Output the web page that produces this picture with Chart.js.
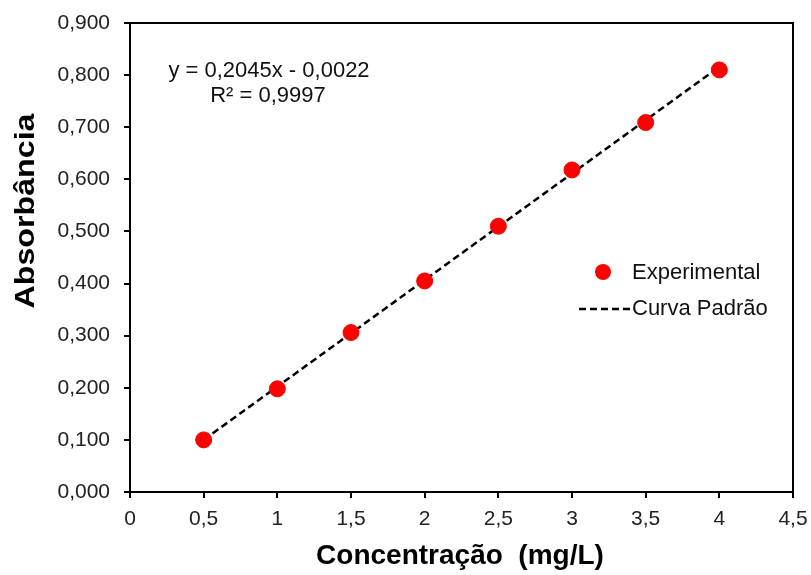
<!DOCTYPE html>
<html>
<head>
<meta charset="utf-8">
<script src="https://cdn.jsdelivr.net/npm/chart.js@4.4.0/dist/chart.umd.min.js"></script>
<style>
  html, body { margin: 0; padding: 0; background: #fff; }
  #wrap { width: 811px; height: 575px; }
</style>
</head>
<body>
<div id="wrap"><canvas id="curva"></canvas></div>
<script>
// calibration data
const concentracao = [0.5, 1, 1.5, 2, 2.5, 3, 3.5, 4];
const absorbancia = [0.100, 0.198, 0.306, 0.405, 0.510, 0.618, 0.709, 0.810];

// trend line (from the equation shown on the chart)
const trendX = [0.5, 4];
const slope = 0.2045;
const intercept = -0.0022;

const eqLines = ["y = 0,2045x - 0,0022", "R² = 0,9997"];
const xTitle = "Concentração  (mg/L)";
const yTitle = "Absorbância";

const FONT = "'Liberation Sans', Arial, sans-serif";

// frame + titles + equation + legend
const extras = {
  id: 'extras',
  afterDraw(chart) {
    const ctx = chart.ctx;
    const a = chart.chartArea;
    ctx.save();
    ctx.strokeStyle = '#000';
    ctx.lineWidth = 2;
    ctx.strokeRect(a.left, a.top, a.right - a.left, a.bottom - a.top);

    ctx.fillStyle = '#000';
    ctx.font = 'bold 28px ' + FONT;
    ctx.textAlign = 'center';
    ctx.textBaseline = 'middle';
    ctx.fillText(xTitle, 460, 556);
    ctx.translate(26, 211);
    ctx.rotate(-Math.PI / 2);
    ctx.scale(1.15, 1);
    ctx.fillText(yTitle, 0, 0);
    ctx.setTransform(1, 0, 0, 1, 0, 0);

    ctx.fillStyle = '#111';
    ctx.font = '22px ' + FONT;
    ctx.fillText(eqLines[0], 269, 71);
    ctx.fillText(eqLines[1], 268, 96);

    // legend
    const ds = chart.data.datasets;
    ctx.textAlign = 'left';
    ctx.beginPath();
    ctx.fillStyle = ds[0].backgroundColor;
    ctx.arc(603, 272, 8, 0, Math.PI * 2);
    ctx.fill();
    ctx.fillStyle = '#111';
    ctx.fillText(ds[0].label, 632, 273);
    ctx.beginPath();
    ctx.setLineDash(ds[1].borderDash);
    ctx.lineWidth = ds[1].borderWidth;
    ctx.strokeStyle = ds[1].borderColor;
    ctx.moveTo(579, 309);
    ctx.lineTo(630, 309);
    ctx.stroke();
    ctx.setLineDash([]);
    ctx.fillText(ds[1].label, 632, 309);
    ctx.restore();
  }
};

new Chart(document.getElementById('curva'), {
  type: 'scatter',
  data: {
    datasets: [
      {
        label: 'Experimental',
        data: concentracao.map((x, i) => ({ x: x, y: absorbancia[i] })),
        backgroundColor: '#ff0000',
        borderColor: '#ff0000',
        pointRadius: 8,
        pointHoverRadius: 8,
        order: 1
      },
      {
        label: 'Curva Padrão',
        type: 'line',
        data: trendX.map(x => ({ x: x, y: slope * x + intercept })),
        borderColor: '#000',
        borderWidth: 2.5,
        borderDash: [7, 4],
        pointRadius: 0,
        fill: false,
        order: 2
      }
    ]
  },
  options: {
    responsive: true,
    maintainAspectRatio: false,
    animation: false,
    layout: { padding: { top: 23, right: 18, left: 0, bottom: 0 } },
    plugins: { legend: { display: false }, tooltip: { enabled: false } },
    scales: {
      x: {
        type: 'linear',
        min: 0,
        max: 4.5,
        afterFit: s => { s.height = 83; s.paddingLeft = 0; s.paddingRight = 0; },
        ticks: {
          stepSize: 0.5,
          color: '#222',
          font: { family: FONT, size: 21 },
          padding: 9,
          callback: v => String(v).replace('.', ',')
        },
        grid: { drawOnChartArea: false, tickLength: 6, color: '#000', lineWidth: 2 },
        border: { color: '#000', width: 2 }
      },
      y: {
        min: 0,
        max: 0.9,
        afterFit: s => { s.width = 130; s.paddingTop = 0; s.paddingBottom = 0; },
        ticks: {
          stepSize: 0.1,
          color: '#222',
          font: { family: FONT, size: 21 },
          padding: 14,
          callback: v => v.toFixed(3).replace('.', ',')
        },
        grid: { drawOnChartArea: false, tickLength: 6, color: '#000', lineWidth: 2 },
        border: { color: '#000', width: 2 }
      }
    }
  },
  plugins: [extras]
});
</script>
</body>
</html>
